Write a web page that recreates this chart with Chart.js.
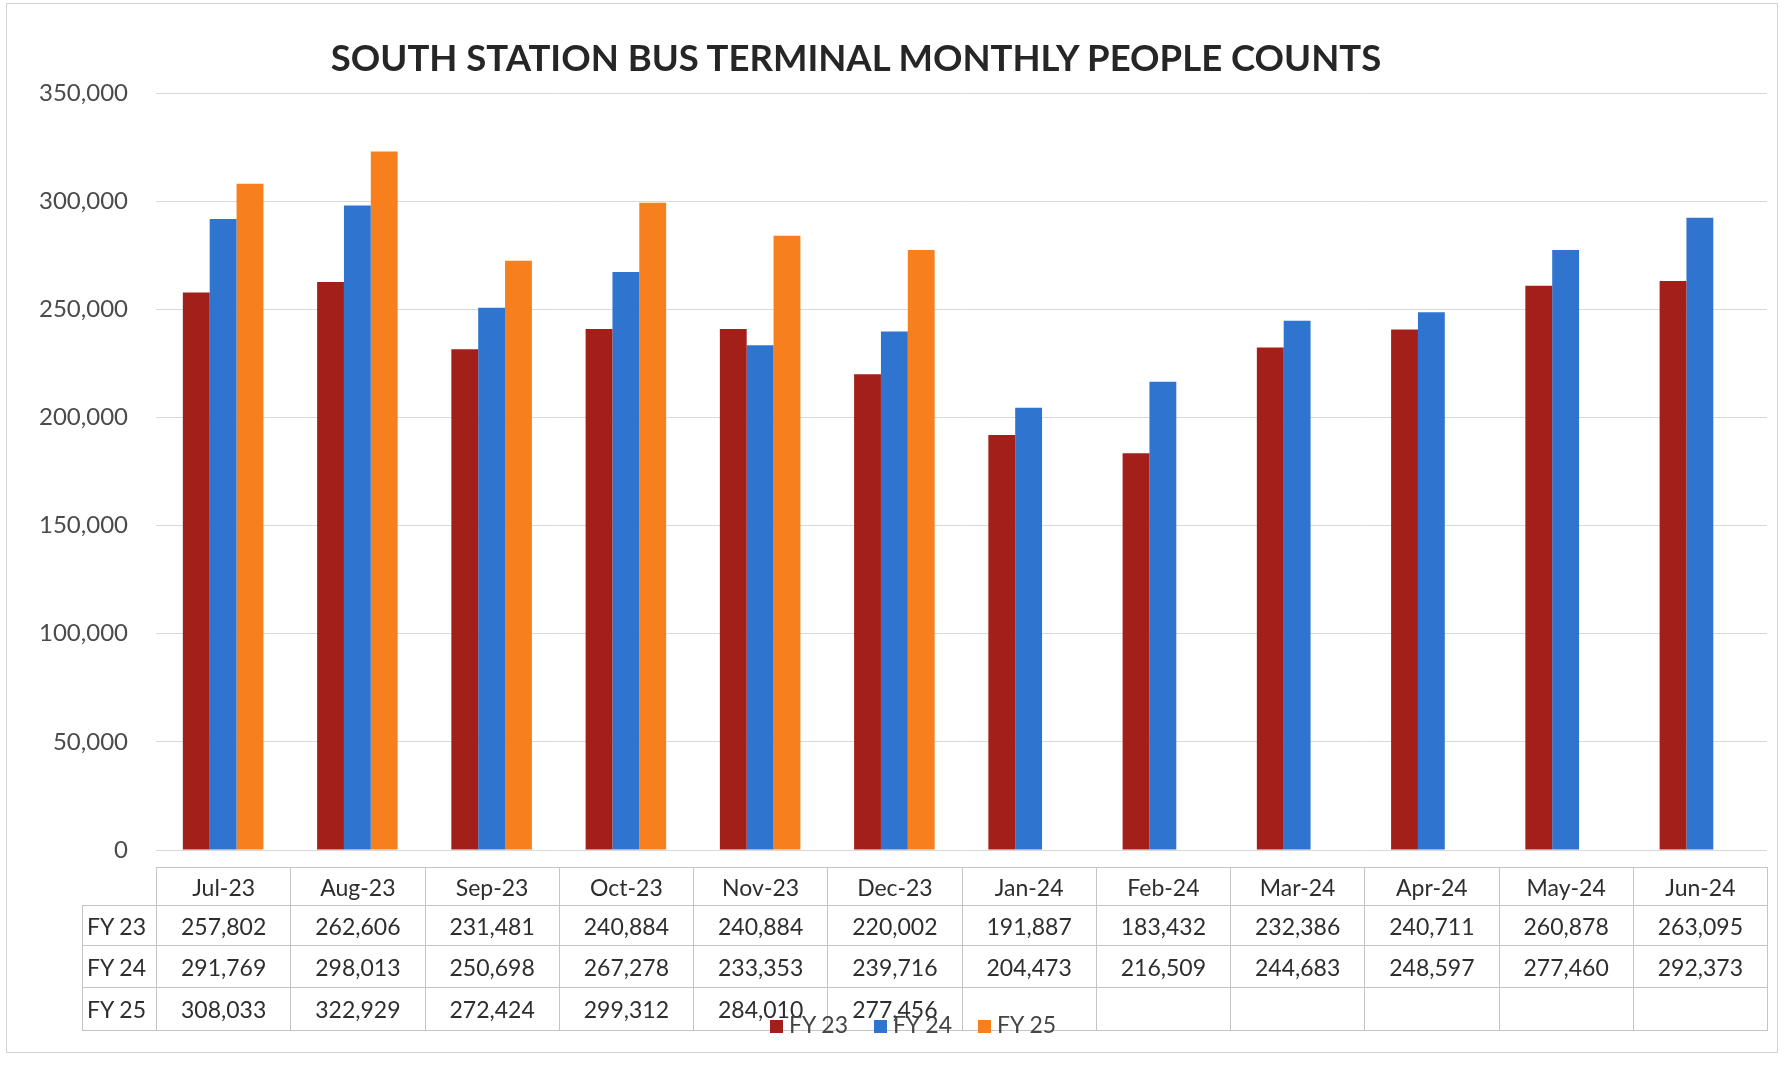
<!DOCTYPE html>
<html>
<head>
<meta charset="utf-8">
<script src="https://cdn.jsdelivr.net/npm/chart.js@4.4.1/dist/chart.umd.min.js"></script>
<style>
    html, body { margin: 0; padding: 0; background: #fff; }
    #wrap { position: relative; width: 1785px; height: 1066px; overflow: hidden; font-family: Lato, "Open Sans", sans-serif; }
    #frame { position: absolute; left: 6px; top: 3px; width: 1772px; height: 1050px; border: 1px solid #d4d4d4; box-sizing: border-box; }
    #title { position: absolute; left: 0; width: 1712px; top: 33px; text-align: center; font-weight: 700; font-size: 36.5px; color: #262626; line-height: 48px; }
    #chart { position: absolute; left: 0; top: 0; }
    #data-table { position: absolute; border-collapse: collapse; table-layout: fixed; font-size: 23px; color: #2e2e2e; }
    #data-table td { border: 1px solid #c4c4c4; text-align: center; padding: 0; white-space: nowrap; overflow: visible; }
    #data-table td.lbl { text-align: left; padding-left: 4px; }
    #data-table td.blank { border: none; }
    #legend { position: absolute; top: 1010px; left: 770px; display: flex; gap: 0; font-size: 23px; color: #444; }
    #legend .item { display: flex; align-items: center; margin-right: 26px; }
    #legend .sw { width: 13px; height: 13px; margin-right: 6px; margin-top: 4px; }
</style>
</head>
<body>
<div id="wrap">
    <div id="frame"></div>
    <canvas id="chart" width="1785" height="1066"></canvas>
    <div id="title">SOUTH STATION BUS TERMINAL MONTHLY PEOPLE COUNTS</div>
    <table id="data-table"></table>
    <div id="legend"></div>
</div>
<script>
const months = ['Jul-23', 'Aug-23', 'Sep-23', 'Oct-23', 'Nov-23', 'Dec-23', 'Jan-24', 'Feb-24', 'Mar-24', 'Apr-24', 'May-24', 'Jun-24'];
const fy23 = [257802, 262606, 231481, 240884, 240884, 220002, 191887, 183432, 232386, 240711, 260878, 263095];
const fy24 = [291769, 298013, 250698, 267278, 233353, 239716, 204473, 216509, 244683, 248597, 277460, 292373];
const fy25 = [308033, 322929, 272424, 299312, 284010, 277456, null, null, null, null, null, null];
const yTicks = [0, 50000, 100000, 150000, 200000, 250000, 300000, 350000];

const series = [
    { label: 'FY 23', data: fy23, color: '#A3201A' },
    { label: 'FY 24', data: fy24, color: '#2F74CF' },
    { label: 'FY 25', data: fy25, color: '#F77F1E' }
];

function fmt(v) {
    return v == null ? '' : v.toLocaleString('en-US');
}

const ctx = document.getElementById('chart').getContext('2d');
const chart = new Chart(ctx, {
    type: 'bar',
    data: {
        labels: months,
        datasets: series.map(s => ({
            label: s.label,
            data: s.data,
            backgroundColor: s.color,
            borderWidth: 0,
            categoryPercentage: 0.6,
            barPercentage: 1.0
        }))
    },
    options: {
        responsive: false,
        animation: false,
        layout: { padding: { left: 0, right: 18, top: 93, bottom: 216 } },
        plugins: {
            legend: { display: false },
            title: { display: false },
            tooltip: { enabled: false }
        },
        scales: {
            x: { display: false },
            y: {
                min: 0,
                max: 350000,
                afterBuildTicks: (scale) => { scale.ticks = yTicks.map(v => ({ value: v })); },
                afterFit: (scale) => { scale.width = 156; },
                border: { display: false },
                grid: { color: '#d9d9d9', lineWidth: 1, drawTicks: false },
                ticks: {
                    padding: 28,
                    color: '#4a4a4a',
                    font: { family: 'Lato', size: 24 },
                    callback: (v) => fmt(v)
                }
            }
        }
    }
});

// Table under the plot, lined up with the category scale
function buildTable() {
    const area = chart.chartArea;
    const colW = (area.right - area.left) / months.length;
    const lblW = 74;
    const table = document.getElementById('data-table');
    table.style.left = (area.left - lblW) + 'px';
    table.style.top = (area.bottom + 17) + 'px';
    table.style.width = (lblW + colW * months.length) + 'px';

    let html = '<colgroup><col style="width:' + lblW + 'px">';
    months.forEach(() => { html += '<col style="width:' + colW + 'px">'; });
    html += '</colgroup>';
    html += '<tr style="height:38px"><td class="blank"></td>' + months.map(m => `<td>${m}</td>`).join('') + '</tr>';
    const rowH = [40, 42, 43];
    series.forEach((s, i) => {
        html += `<tr style="height:${rowH[i]}px"><td class="lbl">${s.label}</td>` + s.data.map(v => `<td>${fmt(v)}</td>`).join('') + '</tr>';
    });
    table.innerHTML = html;

    document.getElementById('legend').innerHTML = series.map(s =>
        `<div class="item"><span class="sw" style="background:${s.color}"></span>${s.label}</div>`
    ).join('');
}
buildTable();
</script>
</body>
</html>
